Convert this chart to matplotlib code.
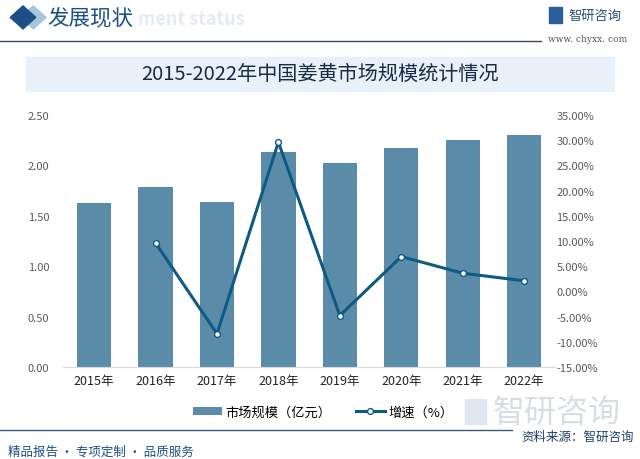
import matplotlib
matplotlib.use("Agg")
from matplotlib import pyplot as plt
from matplotlib.patches import Rectangle, Polygon
from matplotlib.lines import Line2D
from matplotlib.ticker import FuncFormatter
import numpy as np

plt.rcParams['font.family'] = ['Noto Sans CJK SC', 'DejaVu Sans']

years = ['2015年', '2016年', '2017年', '2018年', '2019年', '2020年', '2021年', '2022年']
market_size = [1.63, 1.79, 1.64, 2.13, 2.02, 2.17, 2.25, 2.30]
growth_years = [1, 2, 3, 4, 5, 6, 7]
growth = [9.6, -8.4, 29.6, -4.8, 6.9, 3.6, 2.1]

bar_color = '#5a8caa'
line_color = '#0e5a82'

fig = plt.figure(figsize=(6.4, 4.6), dpi=100)
fig.patch.set_facecolor('white')

# header
fig.patches.append(Polygon([[0.032, 0.960], [0.052, 0.935], [0.072, 0.960], [0.052, 0.985]],
                           closed=True, transform=fig.transFigure, color='#a9c4de', zorder=1))
fig.patches.append(Polygon([[0.016, 0.960], [0.036, 0.935], [0.056, 0.960], [0.036, 0.985]],
                           closed=True, transform=fig.transFigure, color='#1d4f86', zorder=2))
fig.text(0.215, 0.957, 'ment status', fontsize=13, color='#e6ebf1', fontweight='bold',
         ha='left', va='center')
fig.text(0.074, 0.960, '发展现状', fontsize=15.5, color='#1d4f86', ha='left', va='center')
fig.add_artist(Line2D([0.0, 0.845], [0.908, 0.908], transform=fig.transFigure,
                      color='#3a4a5a', lw=1.0))
fig.add_artist(Rectangle((0.858, 0.948), 0.020, 0.034, transform=fig.transFigure,
                         color='#2a5e9a'))
fig.text(0.888, 0.965, '智研咨询', fontsize=9.5, color='#2a4f7a', ha='left', va='center')
fig.text(0.856, 0.915, 'www. chyxx. com', fontsize=6.5, color='#555555',
         ha='left', va='center', family='DejaVu Serif')

# title band
fig.patches.append(Rectangle((0.04, 0.800), 0.92, 0.075, transform=fig.transFigure,
                             color='#e8f1f9', zorder=0))
fig.text(0.50, 0.838, '2015-2022年中国姜黄市场规模统计情况', fontsize=14.5,
         color='#1a2a44', ha='center', va='center')

ax = fig.add_axes([0.099, 0.200, 0.768, 0.548])
x = np.arange(len(years))
ax.bar(x, market_size, width=0.56, color=bar_color, zorder=2, label='市场规模（亿元）')
ax.set_xlim(-0.5, 7.5)
ax.set_ylim(0, 2.5)
ax.set_yticks(np.arange(0, 2.51, 0.5))
ax.yaxis.set_major_formatter(FuncFormatter(lambda v, p: f'{v:.2f}'))
ax.set_xticks(x)
ax.set_xticklabels(years)
for s in ['top', 'right', 'left']:
    ax.spines[s].set_visible(False)
ax.spines['bottom'].set_color('#d9d9d9')
ax.tick_params(axis='y', length=0, labelsize=8, labelcolor='#595959', pad=10)
ax.tick_params(axis='x', length=0, labelsize=9, labelcolor='#222222', pad=5)

ax2 = ax.twinx()
ax2.plot(growth_years, growth, color=line_color, lw=2.2, marker='o', markersize=4.2,
         markerfacecolor='white', markeredgecolor=line_color, markeredgewidth=1,
         zorder=3, label='增速（%）')
ax2.set_ylim(-15, 35)
ax2.set_yticks(np.arange(-15, 35.1, 5))
ax2.yaxis.set_major_formatter(FuncFormatter(lambda v, p: f'{v:.2f}%'))
for s in ['top', 'right', 'left', 'bottom']:
    ax2.spines[s].set_visible(False)
ax2.tick_params(axis='y', length=0, labelsize=8, labelcolor='#595959', pad=1)

h1, l1 = ax.get_legend_handles_labels()
h2, l2 = ax2.get_legend_handles_labels()
fig.legend(h1 + h2, l1 + l2, loc='center', bbox_to_anchor=(0.505, 0.102), ncol=2,
           frameon=False, fontsize=9.5, handlelength=2.2, handleheight=0.6,
           columnspacing=1.8, handletextpad=0.3)

# watermark logo near legend
fig.add_artist(Rectangle((0.726, 0.076), 0.034, 0.055, transform=fig.transFigure,
                         color='#dfe7f0', zorder=0))
fig.text(0.87, 0.102, '智研咨询', fontsize=23, color='#cfd5dc', ha='center', va='center',
         alpha=0.8, zorder=0)

# footer
fig.add_artist(Line2D([0.0, 0.80], [0.062, 0.062], transform=fig.transFigure,
                      color='#3a5a7a', lw=1.0))
fig.text(0.99, 0.050, '资料来源：智研咨询', fontsize=9, color='#1d3f66',
         ha='right', va='center')
fig.text(0.012, 0.018, '精品报告 · 专项定制 · 品质服务', fontsize=9, color='#1d4f86',
         ha='left', va='center')

fig.savefig('out.png', dpi=100)
